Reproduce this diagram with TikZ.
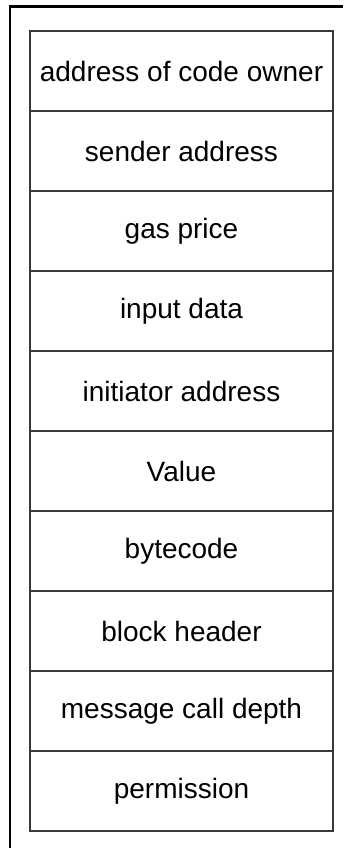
\documentclass[tikz,border=0pt]{standalone}
\usepackage{fontspec}
\setmainfont{Liberation Sans}
\usetikzlibrary{positioning}

\begin{document}
\begin{tikzpicture}[x=0.75pt, y=-0.75pt,
	field/.style={draw=black!78, line width=1.4pt, outer sep=0pt, inner sep=0pt,
		minimum width=227.25pt, minimum height=60pt, font=\fontsize{21}{24}\selectfont}]
	\useasboundingbox (0,0) rectangle (343,848);
	\draw[line width=1.6pt] (10,848) -- (10,6.5) -- (343,6.5);
	\node[field, anchor=north west] (owner) at (30,31) {address of code owner};
	\node[field, below=0pt of owner] (sender) {sender address};
	\node[field, below=0pt of sender] (gasprice) {gas price};
	\node[field, below=0pt of gasprice] (input) {input data};
	\node[field, below=0pt of input] (initiator) {initiator address};
	\node[field, below=0pt of initiator] (value) {Value};
	\node[field, below=0pt of value] (bytecode) {bytecode};
	\node[field, below=0pt of bytecode] (header) {block header};
	\node[field, below=0pt of header] (depth) {message call depth};
	\node[field, below=0pt of depth] (permission) {permission};
\end{tikzpicture}
\end{document}
